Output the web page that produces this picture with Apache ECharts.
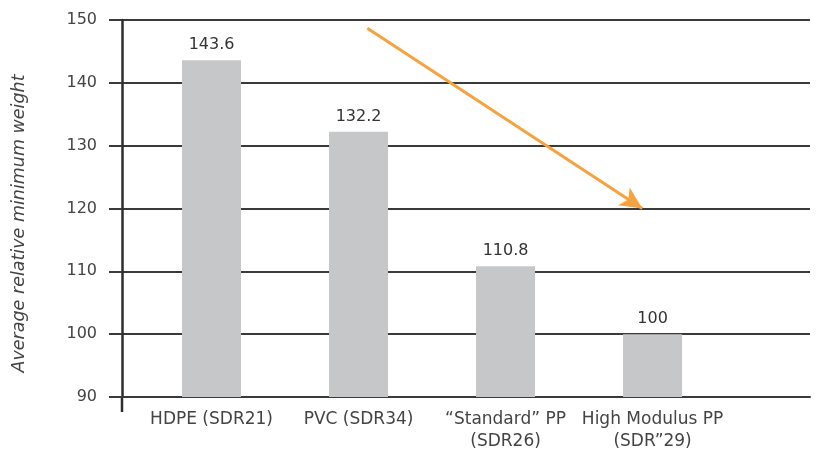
<!DOCTYPE html>
<html>
<head>
<meta charset="utf-8">
<script src="https://cdn.jsdelivr.net/npm/echarts@6/dist/echarts.min.js"></script>
<style>html,body{margin:0;padding:0;background:#fff}#c{width:828px;height:450px}</style>
</head>
<body>
<div id="c"></div>
<script>
var categories = ['HDPE (SDR21)', 'PVC (SDR34)', '\u201CStandard\u201D PP\n(SDR26)', 'High Modulus PP\n(SDR\u201D29)'];
var values = [143.6, 132.2, 110.8, 100];
var yTicks = [90, 100, 110, 120, 130, 140, 150];
var yAxisTitle = 'Average relative minimum weight';
// trend arrow: start and end in data units (x = category position, y = value)
var arrowStart = [2.06, 148.7];
var arrowEnd = [3.93, 120];

var positions = categories.map(function (c, i) { return i + 1; });
var barData = values.map(function (v, i) { return [positions[i], v]; });

var chart = echarts.init(document.getElementById('c'), null, {renderer: 'canvas'});
var font = 'DejaVu Sans';
var xMin = 0.391, xMax = 5.071;
var option = {
  animation: false,
  backgroundColor: '#ffffff',
  grid: {left: 122, right: 18, top: 20, bottom: 53, containLabel: false, outerBoundsMode: 'none'},
  xAxis: {
    type: 'value',
    min: xMin,
    max: xMax,
    splitLine: {show: false},
    axisLine: {show: true, onZero: false, lineStyle: {color: '#3a3a3a', width: 2}},
    axisTick: {show: false},
    axisLabel: {
      customValues: positions,
      color: '#444',
      fontFamily: font,
      fontSize: 17,
      lineHeight: 22,
      margin: 12,
      formatter: function (v) { return categories[Math.round(v) - 1] || ''; }
    }
  },
  yAxis: {
    type: 'value',
    min: yTicks[0],
    max: yTicks[yTicks.length - 1],
    interval: 10,
    name: yAxisTitle,
    nameLocation: 'middle',
    nameGap: 94,
    nameTextStyle: {fontFamily: font, fontSize: 17.5, fontStyle: 'italic', color: '#444', padding: [0, 30, 0, 0]},
    axisLine: {show: true, lineStyle: {color: '#2e2e2e', width: 2.5}},
    axisTick: {show: true, length: 13, lineStyle: {color: '#3a3a3a', width: 2}},
    axisLabel: {color: '#444', fontFamily: font, fontSize: 16, margin: 25},
    splitLine: {show: true, lineStyle: {color: '#3a3a3a', width: 2}}
  },
  series: [{
    type: 'bar',
    data: barData,
    barWidth: 59,
    itemStyle: {color: '#c6c7c8'},
    label: {
      show: true,
      position: 'top',
      distance: 7,
      color: '#333',
      fontFamily: font,
      fontSize: 16,
      formatter: function (p) { return String(values[p.dataIndex]); }
    },
    markLine: {
      silent: true,
      symbol: ['none', 'arrow'],
      symbolSize: [16, 22],
      label: {show: false},
      lineStyle: {color: '#F7A23C', width: 3, type: 'solid'},
      data: [[{coord: arrowStart}, {coord: arrowEnd}]]
    }
  }]
};
chart.setOption(option);
// extend y axis line slightly below the 90 baseline, as in the reference
var p0 = chart.convertToPixel({gridIndex: 0}, [xMin, yTicks[0]]);
chart.setOption({
  graphic: [{
    type: 'line',
    shape: {x1: p0[0], y1: p0[1], x2: p0[0], y2: p0[1] + 15},
    style: {stroke: '#2e2e2e', lineWidth: 2.5},
    silent: true
  }]
});
</script>
</body>
</html>
